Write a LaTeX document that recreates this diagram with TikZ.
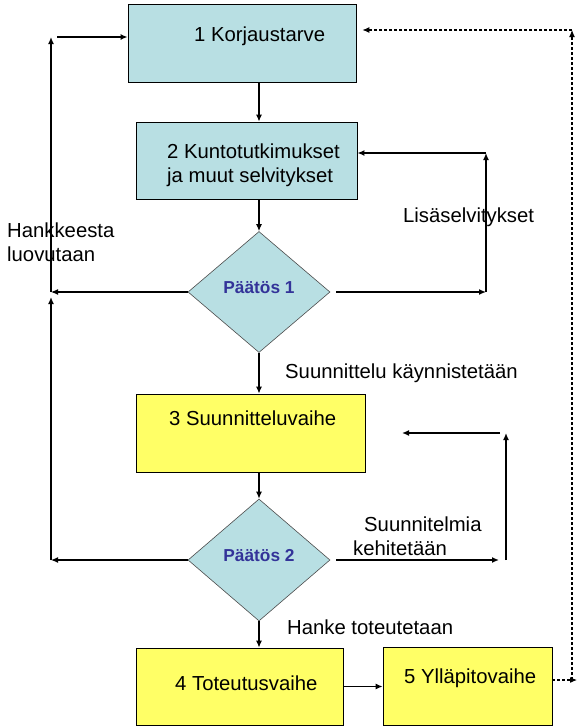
\documentclass[tikz,border=0pt]{standalone}
\usepackage{fontspec}
\setmainfont{Liberation Sans}
\usetikzlibrary{shapes.geometric,arrows.meta}

\definecolor{boxteal}{RGB}{184,223,227}
\definecolor{boxyellow}{RGB}{255,255,102}
\definecolor{decisionblue}{RGB}{51,51,153}

\tikzset{
  phase/.style={draw=black, line width=0.8pt, inner sep=0pt},
  tealphase/.style={phase, fill=boxteal},
  yellowphase/.style={phase, fill=boxyellow},
  decision/.style={diamond, draw=black!70, line width=0.6pt, fill=boxteal, inner sep=0pt,
    text=decisionblue, font=\fontsize{17.3}{20}\selectfont\bfseries,
    text height=12pt, text depth=9.6pt},
  lbl/.style={inner sep=0pt, align=left, font=\fontsize{20.3}{24}\selectfont},
  flow/.style={line width=1.2pt, -{Latex[length=7pt,width=6pt]}},
  feedback/.style={line width=1.6pt, -{Latex[length=7pt,width=6pt]}},
  dashback/.style={line width=1.1pt, dash pattern=on 3pt off 2pt, -{Latex[length=7pt,width=6pt]}}
}

\begin{document}
\begin{tikzpicture}[x=1pt,y=-1pt]
\path[use as bounding box] (0,0) rectangle (583,728);

% phases and decisions
\node[tealphase, minimum width=228pt, minimum height=78pt] (k1) at (242,43) {};
\node[tealphase, minimum width=221pt, minimum height=77pt] (k2) at (246.5,160.5) {};
\node[decision, minimum width=142pt, minimum height=121pt] (p1) at (259,292) {Päätös 1};
\node[yellowphase, minimum width=229pt, minimum height=78pt] (k3) at (250.5,433) {};
\node[decision, minimum width=142pt, minimum height=122pt] (p2) at (259,560) {Päätös 2};
\node[yellowphase, minimum width=207pt, minimum height=77pt] (k4) at (239.5,686.5) {};
\node[yellowphase, minimum width=169pt, minimum height=78pt] (k5) at (467.5,686) {};

\node[lbl, anchor=west] (k1txt) at (194,36) {1 Korjaustarve};
\node[lbl, anchor=west] (k2txt) at (167,165) {2 Kuntotutkimukset\\ja muut selvitykset};
\node[lbl, anchor=west] (k3txt) at (169,418) {3 Suunnitteluvaihe};
\node[lbl, anchor=west] (k4txt) at (175,683) {4 Toteutusvaihe};
\node[lbl, anchor=west] (k5txt) at (404,678) {5 Ylläpitovaihe};

% main flow
\draw[flow] (k1.south -| p1) -- (k2.north -| p1);
\draw[flow] (k2.south -| p1) -- (p1.north);
\draw[flow] (p1.south) -- (k3.north -| p1);
\draw[flow] (k3.south -| p1) -- (p2.north);
\draw[flow] (p2.south) -- (k4.north -| p2);
\draw[flow] (k4.east) -- (k4.east -| k5.west);

% giving up
\coordinate (quit1) at (51,292);
\coordinate (quit2) at (51,560);
\coordinate (quittop) at (51,37);
\draw[flow] (p1.west) -- (quit1);
\draw[flow] (p2.west) -- (quit2);
\draw[feedback] (quit1) -- (quittop);
\draw[feedback] (quit2) -- ([yshift=-5pt]quit1);
\draw[feedback] ([xshift=6pt]quittop) -- (quittop -| k1.west);

% more studies
\coordinate (more1) at (486,292);
\coordinate (more1top) at (486,153);
\draw[feedback, shorten <=6pt] (p1.east) -- (more1);
\draw[feedback] (more1) -- (more1top);
\draw[feedback] (more1top) -- (more1top -| k2.east);

% plans developed
\coordinate (dev2) at (499,560);
\coordinate (dev2up) at (506,560);
\coordinate (dev2top) at (506,433);
\coordinate (dev2end) at (402,433);
\draw[feedback, shorten <=6pt] (p2.east) -- (dev2);
\draw[feedback] (dev2up) -- (dev2top);
\draw[feedback] ([xshift=-6pt]dev2top) -- (dev2end);

% maintenance back to start
\coordinate (maint) at (577,680);
\coordinate (maintup) at (572,680);
\coordinate (mainttop) at (572,30);
\draw[dashback] (k5.east |- maint) -- (maint);
\draw[dashback] (maintup) -- (mainttop);
\draw[dashback, shorten >=6pt] (mainttop) -- (mainttop -| k1.east);

% labels
\node[lbl, anchor=west] (quitlbl) at (7,242) {Hankkeesta\\luovutaan};
\node[lbl, anchor=west] (morelbl) at (403,217) {Lisäselvitykset};
\node[lbl, anchor=west] (startlbl) at (285,373) {Suunnittelu käynnistetään};
\node[lbl, anchor=west] (devlbl) at (353,536) {\hspace*{11pt}Suunnitelmia\\kehitetään};
\node[lbl, anchor=west] (golbl) at (287,627) {Hanke toteutetaan};
\end{tikzpicture}
\end{document}
